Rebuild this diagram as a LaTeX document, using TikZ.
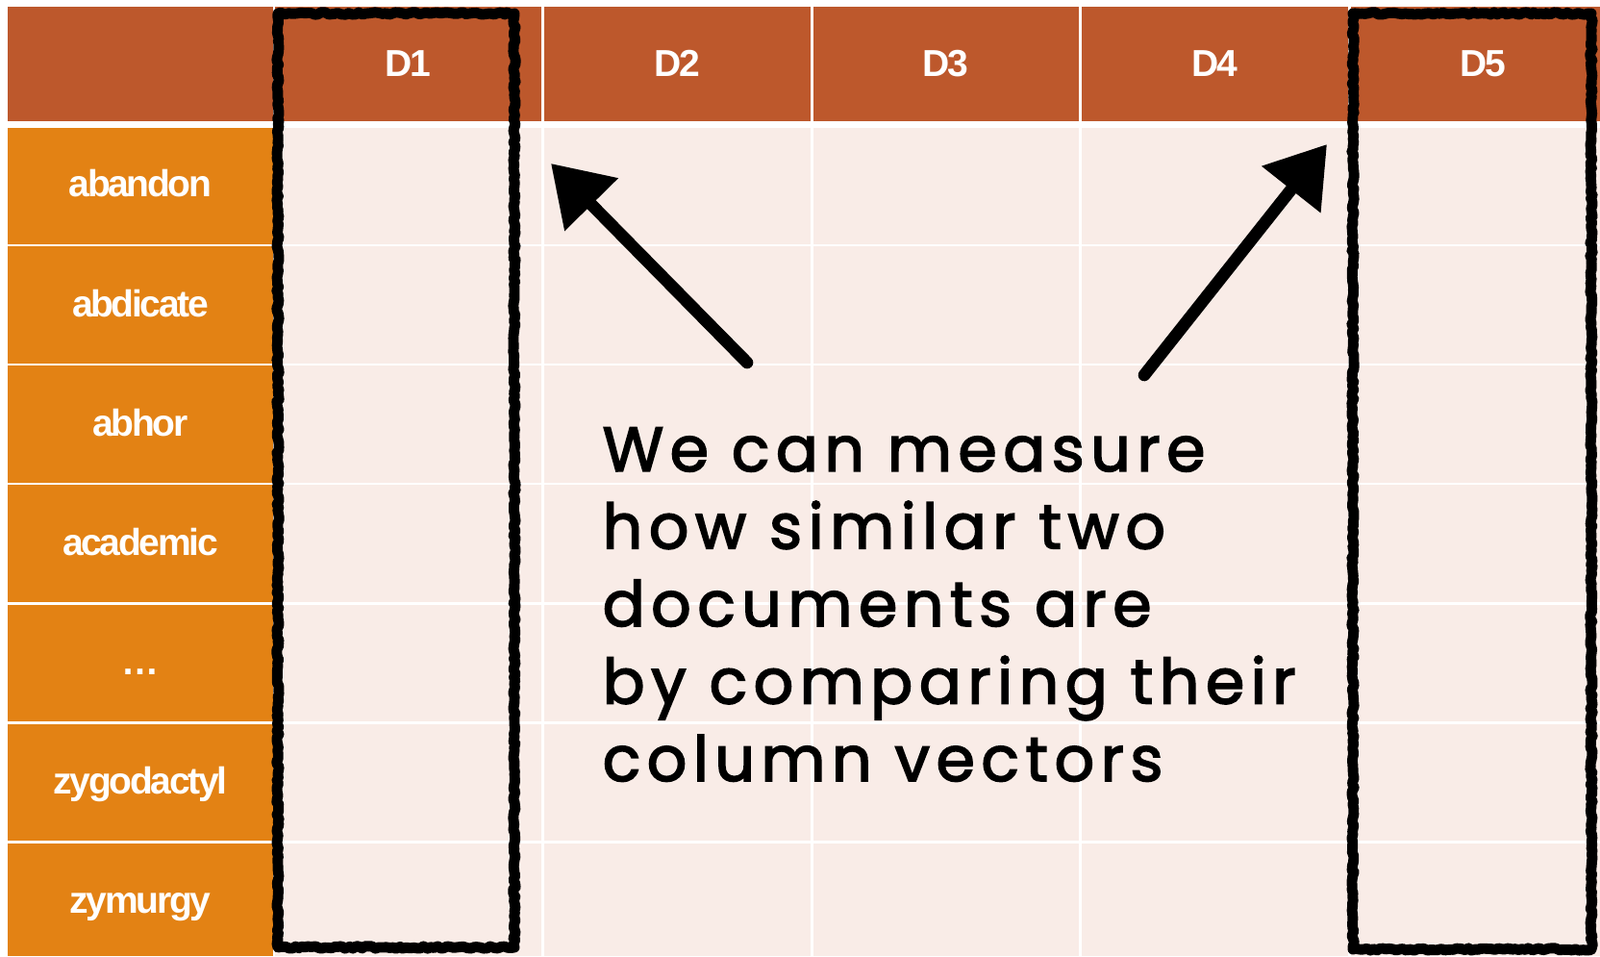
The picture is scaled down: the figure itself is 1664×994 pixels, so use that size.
\documentclass[tikz,border=0pt]{standalone}
\usepackage{fontspec}
\usepackage{xcolor}
\usepackage{tikz}
\usetikzlibrary{arrows.meta,decorations.pathmorphing}
\setmainfont{Liberation Sans}
\newfontfamily\labelfont[LetterSpace=-6]{Liberation Sans}
\newfontfamily\chalkfont[LetterSpace=10,FakeBold=2.5]{Poppins}
\definecolor{headrust}{RGB}{189,88,44}
\definecolor{wordorange}{RGB}{227,130,20}
\definecolor{cellpink}{RGB}{249,236,231}

\tikzset{
  chalk/.style={line width=3.1pt, black, line join=round,
    decorate, decoration={random steps, segment length=1pt, amplitude=0.35pt}},
  chalkarrow/.style={line width=3.6pt, black, line cap=round,
    -{Triangle[length=0.6cm, width=0.75cm]}},
  celltext/.style={anchor=base, text=white,
    font=\labelfont\bfseries\fontsize{11.1}{13}\selectfont},
}

\begin{document}
\begin{tikzpicture}[x=0.01cm, y=-0.01cm]
    %% units are pixels of the 1664 x 994 slide, y runs downward
    %% columns: words [7.5, 285], then D1..D5 each 279.5 wide
    %% header y in [7.5, 126], rows of 124 from y=131
    \useasboundingbox (0,0) rectangle (1664,994);

    % ---- TABLE BACKGROUND ----
    \fill[headrust]   (7.5, 7.5) rectangle (1664, 126);
    \fill[wordorange] (7.5, 133) rectangle (285, 994);
    \fill[cellpink]   (285, 133) rectangle (1664, 994);
    \foreach \y in {255,379,503,627,751,875} {
      \draw[white, line width=0.85pt] (7.5, \y) -- (1664, \y);
    }
    \foreach \x in {285,564.5,844,1123.5,1403} {
      \draw[white, line width=0.85pt] (\x, 7.5) -- (\x, 994);
    }

    % column headers (baselines)
    \foreach \i [evaluate=\i as \cx using {285+279.5*(\i-0.5)}] in {1,...,5} {
      \node[celltext] (d\i) at (\cx, 80) {D\i};
    }
    % row labels (baselines)
    \foreach \w [count=\k] in {abandon,abdicate,abhor,academic,\ldots,zygodactyl,zymurgy} {
      \node[celltext] (w\k) at (146, {81+124*\k}) {\w};
    }

    % ---- CHALK MARKS ----
    \draw[chalk] (289, 14) rectangle (535, 985);
    \draw[chalk] (1407, 14) rectangle (1655, 987);

    \coordinate (ltail) at (777, 377);
    \coordinate (ltip)  at (573, 170);
    \coordinate (rtail) at (1190, 390);
    \coordinate (rtip)  at (1380, 150);
    \draw[chalkarrow] (ltail) -- (ltip);
    \draw[chalkarrow] (rtail) -- (rtip);

    % base of the last line
    \node[anchor=base west, align=left, inner sep=0pt,
      font=\chalkfont\fontsize{18.5}{22.9}\selectfont] (note) at (626, 812)
      {We can measure\\how similar two\\documents are\\by comparing their\\column vectors};

\end{tikzpicture}
\end{document}
